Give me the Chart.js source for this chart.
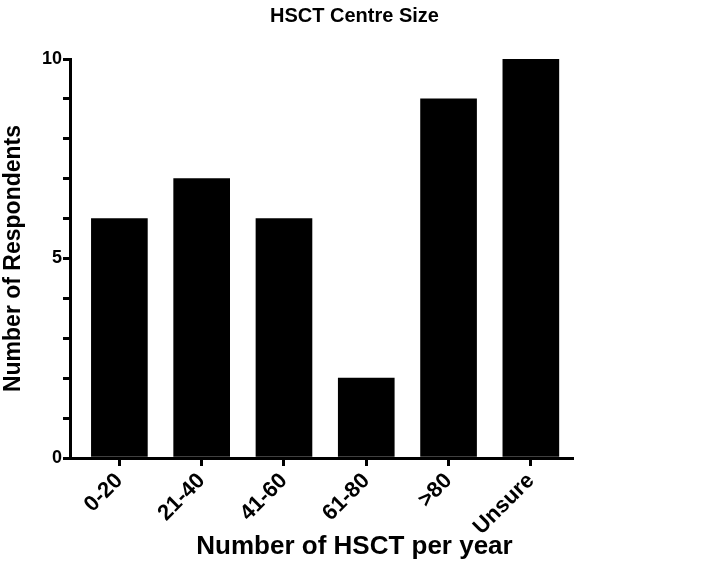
<!DOCTYPE html>
<html>
<head>
<meta charset="utf-8">
<script src="https://cdn.jsdelivr.net/npm/chart.js@4"></script>
<style>
html,body{margin:0;padding:0;background:#fff}
#wrap{width:709px;height:579px}
</style>
</head>
<body>
<div id="wrap"><canvas id="c" width="709" height="579"></canvas></div>
<script>
const categories=['0-20','21-40','41-60','61-80','>80','Unsure']
const respondents=[6,7,6,2,9,10]
const yTicks=[0,5,10]
const xTitle='Number of HSCT per year'

const points=categories.map((c,i)=>({x:i,y:respondents[i]}))
const font='"Liberation Sans", Arial, sans-serif'

// x title is centred on the whole picture, not on the axis
const xTitlePlugin={
    id:'xTitle',
    afterDraw(chart){
        const ctx=chart.ctx
        ctx.save()
        ctx.fillStyle='#000'
        ctx.font='bold 26px '+font
        ctx.textAlign='center'
        ctx.textBaseline='middle'
        ctx.fillText(xTitle,chart.width/2,547)
        ctx.restore()
    }
}

new Chart(document.getElementById('c').getContext('2d'),{
    type:'bar',
    data:{
        datasets:[{
            data:points,
            backgroundColor:'#000',
            borderWidth:0,
            barThickness:56
        }]
    },
    options:{
        responsive:false,
        animation:false,
        layout:{padding:0},
        plugins:{
            legend:{display:false},
            tooltip:{enabled:false},
            title:{
                display:true,
                text:'HSCT Centre Size',
                color:'#000',
                font:{family:font,size:20,weight:'bold',lineHeight:1.2},
                padding:{top:4,bottom:31}
            }
        },
        scales:{
            x:{
                type:'linear',
                offset:false,
                min:-0.6,
                max:5.5,
                afterFit:s=>{s.height=121},
                afterBuildTicks:s=>{s.ticks=categories.map((c,i)=>({value:i}))},
                border:{display:true,color:'#000',width:3},
                grid:{offset:false,drawOnChartArea:false,color:'#000',lineWidth:3,tickLength:8},
                ticks:{
                    color:'#000',
                    font:{family:font,size:22,weight:'bold'},
                    maxRotation:45,
                    minRotation:45,
                    padding:2,
                    callback:v=>categories[v]
                }
            },
            y:{
                min:0,
                max:10,
                afterFit:s=>{s.width=70},
                afterBuildTicks:s=>{
                    let t=[]
                    for(let i=0;i<=10;i++) t.push({value:i})
                    s.ticks=t
                },
                border:{display:true,color:'#000',width:3},
                grid:{drawOnChartArea:false,color:'#000',lineWidth:3,tickLength:7},
                ticks:{
                    color:'#000',
                    font:{family:font,size:18,weight:'bold'},
                    padding:1,
                    callback:v=>yTicks.includes(v)?String(v):''
                },
                title:{
                    display:true,
                    text:'Number of Respondents',
                    color:'#000',
                    font:{family:font,size:23,weight:'bold'},
                    padding:{top:0,bottom:2}
                }
            },
            // empty box on the right so the plot ends where the reference's does
            pad:{
                type:'linear',
                position:'right',
                display:true,
                afterFit:s=>{s.width=137},
                ticks:{display:false},
                grid:{display:false},
                border:{display:false}
            }
        }
    },
    plugins:[xTitlePlugin]
})
</script>
</body>
</html>
